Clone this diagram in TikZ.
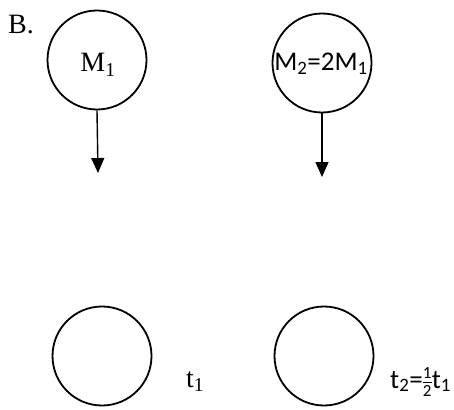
\documentclass[tikz,border=0pt]{standalone}
\usepackage{fontspec}
\setmainfont{Liberation Serif}
\newfontfamily\calib{Carlito}
\usetikzlibrary{arrows.meta}
\begin{document}
\begin{tikzpicture}[x=1pt,y=-1pt,
  ball/.style={circle,draw,line width=1.8pt,minimum size=99pt,inner sep=0pt},
  fall/.style={line width=1.4pt,-{Triangle[length=15pt,width=13pt]}},
  serlab/.style={font=\fontsize{28}{28}\selectfont,inner sep=0pt},
  sanlab/.style={font=\calib\fontsize{27}{27}\selectfont,inner sep=0pt}]
\useasboundingbox (0,0) rectangle (454,409);
\node[serlab,anchor=base west] (lab) at (8,34) {B.};
\node[ball] (m1) at (97,60) {};
\node[serlab] (m1t) at (98,65) {M\textsubscript{1}};
\coordinate (e1) at (98,173);
\draw[fall] (m1.south) -- (e1);
\node[ball] (m2) at (322,63) {};
\node[sanlab] (m2t) at (321,64) {M\textsubscript{2}=2M\textsubscript{1}};
\coordinate (e2) at (322,177);
\draw[fall] (m2.south) -- (e2);
\node[ball] (b1) at (102,356) {};
\node[serlab,anchor=base west] (t1) at (186,387) {t\textsubscript{1}};
\node[ball] (b2) at (324,356) {};
\node[sanlab,anchor=base west] (t2) at (390,388) {t\textsubscript{2}=\kern-1pt$\frac{\hbox{\calib\fontsize{17}{17}\selectfont 1}}{\hbox{\calib\fontsize{17}{17}\selectfont 2}}$\kern-1pt t\textsubscript{1}};
\end{tikzpicture}
\end{document}
